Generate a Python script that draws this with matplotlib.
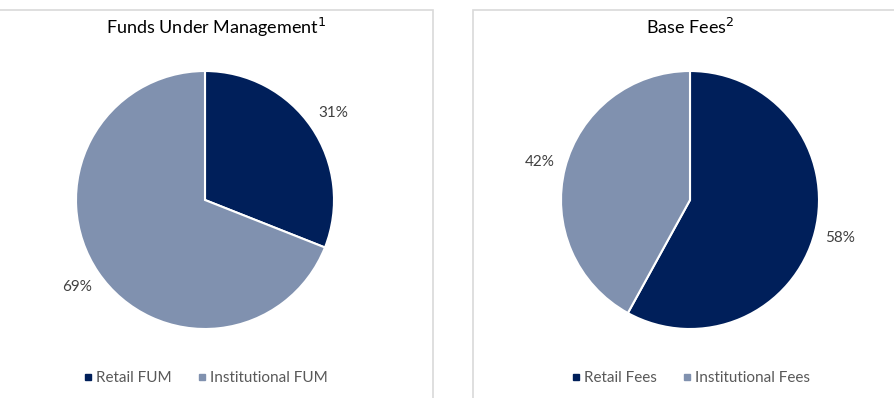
import matplotlib.pyplot as plt
from matplotlib.patches import Rectangle
from matplotlib.lines import Line2D

fum_labels = ['Retail FUM', 'Institutional FUM']
fum_values = [31, 69]
fee_labels = ['Retail Fees', 'Institutional Fees']
fee_values = [58, 42]
titles = ['Funds Under Management$^1$', 'Base Fees$^2$']

colors = ['#001F5A', '#8091AF']
W, H = 895, 398

plt.rcParams['font.family'] = ['Lato', 'DejaVu Sans']

fig = plt.figure(figsize=(W / 100, H / 100), dpi=100)

# panel frames (pixel coords -> figure fraction)
def frame(x0, x1):
    fig.patches.append(Rectangle((x0 / W, -0.1), (x1 - x0) / W, (H - 10) / H + 0.1,
                                 transform=fig.transFigure, fill=False,
                                 edgecolor='#D9D9D9', linewidth=1.2))

frame(-20, 433)
frame(473, 920)

def panel(cx, values, labels, title, title_x):
    r = 129
    ax = fig.add_axes([(cx - r) / W, (H - 200 - r) / H, 2 * r / W, 2 * r / H])
    wedges, texts, pcts = ax.pie(values, colors=colors, startangle=90, counterclock=False,
                                 autopct='%d%%', pctdistance=1.2,
                                 wedgeprops=dict(edgecolor='white', linewidth=1.5),
                                 textprops=dict(color='#404040', fontsize=11))
    ax.set_xlim(-1, 1)
    ax.set_ylim(-1, 1)
    ax.set_aspect('equal')
    for t in pcts:
        t.set_clip_on(False)
    fig.text(title_x / W, 1 - 27 / H, title, ha='center', va='center',
             fontsize=13, color='#000000')
    handles = [Line2D([], [], marker='s', linestyle='', markersize=5,
                      color=c) for c in colors]
    fig.legend(handles, labels, loc='center', bbox_to_anchor=(cx / W, 1 - 378 / H),
               ncol=2, frameon=False, fontsize=11, handletextpad=0.1,
               columnspacing=1.6, labelcolor='#595959', handlelength=0.8)

panel(205, fum_values, fum_labels, titles[0], 216)
panel(690, fee_values, fee_labels, titles[1], 690)

fig.savefig('out.png', dpi=100)
